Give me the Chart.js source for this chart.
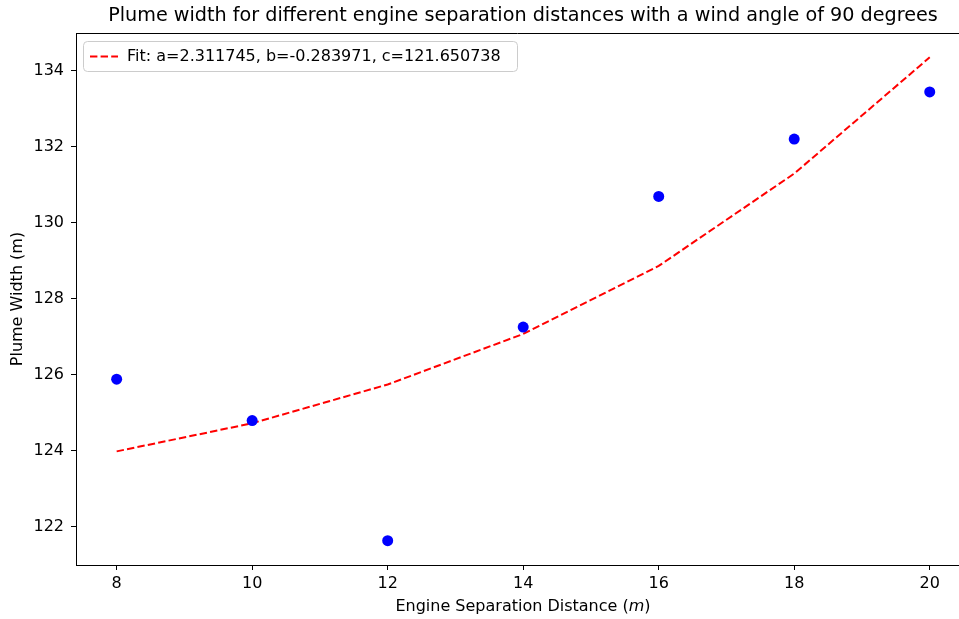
<!DOCTYPE html>
<html>
<head>
<meta charset="utf-8">
<script src="https://cdn.jsdelivr.net/npm/chart.js@4/dist/chart.umd.min.js"></script>
<style>
  html, body { margin: 0; padding: 0; background: #fff; overflow: hidden; }
</style>
</head>
<body>
<canvas id="chart" width="959" height="619"></canvas>
<script>
// engine separation distance (m)
var separations = [8, 10, 12, 14, 16, 18, 20];
// measured plume width (m)
var plumeWidths = [125.88, 124.79, 121.63, 127.25, 130.69, 132.20, 133.44];
// fitted curve values
var fitWidths = [123.98, 124.72, 125.74, 127.07, 128.86, 131.29, 134.35];
var xTicks = [8, 10, 12, 14, 16, 18, 20];
var yTicks = [122, 124, 126, 128, 130, 132, 134];
var fitLabel = 'Fit: a=2.311745, b=-0.283971, c=121.650738';

var FONT = '"DejaVu Sans", sans-serif';
var SIZE = 16;

function toPoints(xs, ys) {
    return xs.map(function (x, i) { return { x: x, y: ys[i] }; });
}

// top spine, title, axis labels and the legend, laid out like matplotlib
var extras = {
    id: 'extras',
    afterDraw: function (chart) {
        var ctx = chart.ctx;
        var a = chart.chartArea;
        ctx.save();
        ctx.strokeStyle = '#000';
        ctx.lineWidth = 1;
        ctx.beginPath();
        ctx.moveTo(a.left, a.top + 0.5);
        ctx.lineTo(chart.width, a.top + 0.5);
        ctx.stroke();

        // title
        ctx.fillStyle = '#000';
        ctx.font = (SIZE * 1.2) + 'px ' + FONT;
        ctx.textAlign = 'center';
        ctx.textBaseline = 'middle';
        ctx.fillText('Plume width for different engine separation distances with a wind angle of 90 degrees', 523, 16);

        // x label with italic m
        var reg = SIZE + 'px ' + FONT;
        var ital = 'italic ' + SIZE + 'px ' + FONT;
        var p1 = 'Engine Separation Distance (';
        var p3 = ')';
        ctx.font = reg;
        var w1 = ctx.measureText(p1).width;
        var w3 = ctx.measureText(p3).width;
        ctx.font = ital;
        var w2 = ctx.measureText('m').width;
        var x0 = 523 - (w1 + w2 + w3) / 2;
        ctx.textAlign = 'left';
        ctx.font = reg;
        ctx.fillText(p1, x0, 607);
        ctx.font = ital;
        ctx.fillText('m', x0 + w1, 607);
        ctx.font = reg;
        ctx.fillText(p3, x0 + w1 + w2, 607);

        // y label
        ctx.save();
        ctx.translate(18, (a.top + a.bottom) / 2);
        ctx.rotate(-Math.PI / 2);
        ctx.textAlign = 'center';
        ctx.fillText('Plume Width (m)', 0, 0);
        ctx.restore();

        // legend
        ctx.fillStyle = 'rgba(255,255,255,0.8)';
        ctx.strokeStyle = '#cccccc';
        ctx.beginPath();
        ctx.roundRect(83.5, 41.5, 434, 30, 4);
        ctx.fill();
        ctx.stroke();
        ctx.strokeStyle = '#ff0000';
        ctx.lineWidth = 2;
        ctx.setLineDash([7.4, 3.2]);
        ctx.beginPath();
        ctx.moveTo(90, 56.5);
        ctx.lineTo(118, 56.5);
        ctx.stroke();
        ctx.setLineDash([]);
        ctx.fillStyle = '#000';
        ctx.font = reg;
        ctx.textAlign = 'left';
        ctx.fillText(fitLabel, 127, 57);
        ctx.restore();
    }
};

new Chart(document.getElementById('chart'), {
    type: 'scatter',
    data: {
        datasets: [
            {
                label: 'data',
                data: toPoints(separations, plumeWidths),
                backgroundColor: '#0000ff',
                borderColor: '#0000ff',
                pointRadius: 5.5,
                pointHoverRadius: 5.5,
                borderWidth: 0
            },
            {
                label: fitLabel,
                type: 'line',
                data: toPoints(separations, fitWidths),
                borderColor: '#ff0000',
                borderWidth: 2,
                borderDash: [7.4, 3.2],
                pointRadius: 0,
                fill: false,
                tension: 0
            }
        ]
    },
    plugins: [extras],
    options: {
        responsive: false,
        animation: false,
        devicePixelRatio: 1,
        layout: { autoPadding: false, padding: { top: 33, right: 0, left: 0, bottom: 0 } },
        plugins: {
            legend: { display: false },
            title: { display: false },
            tooltip: { enabled: false }
        },
        scales: {
            x: {
                type: 'linear',
                min: 7.4,
                max: 20.432,
                afterBuildTicks: function (s) { s.ticks = xTicks.map(function (v) { return { value: v }; }); },
                afterFit: function (s) { s.height = 54; s.paddingRight = 0; s.paddingLeft = 0; },
                grid: { drawOnChartArea: false, drawTicks: true, tickLength: 5, color: '#000' },
                border: { color: '#000', width: 1 },
                ticks: { color: '#000', font: { family: FONT, size: SIZE }, padding: 4, maxRotation: 0 }
            },
            y: {
                min: 120.99,
                max: 134.99,
                afterBuildTicks: function (s) { s.ticks = yTicks.map(function (v) { return { value: v }; }); },
                afterFit: function (s) { s.width = 76; s.paddingTop = 0; s.paddingBottom = 0; },
                grid: { drawOnChartArea: false, drawTicks: true, tickLength: 5, color: '#000' },
                border: { color: '#000', width: 1 },
                ticks: { color: '#000', font: { family: FONT, size: SIZE }, padding: 7 }
            }
        }
    }
});
</script>
</body>
</html>
